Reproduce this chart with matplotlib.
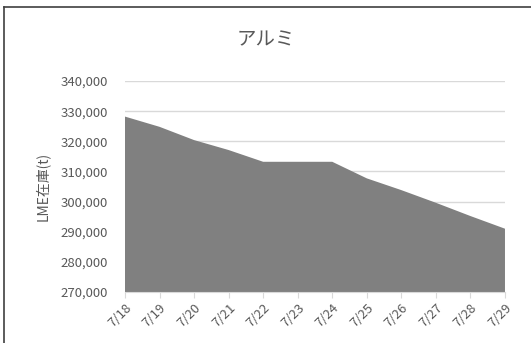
import matplotlib
matplotlib.use('Agg')
from matplotlib import pyplot as plt
from matplotlib.lines import Line2D
from matplotlib.ticker import FuncFormatter

plt.rcParams['font.family'] = ['Noto Sans CJK JP', 'DejaVu Sans']

dates = ['7/18', '7/19', '7/20', '7/21', '7/22', '7/23',
         '7/24', '7/25', '7/26', '7/27', '7/28', '7/29']
stocks = [328200, 324800, 320400, 317100, 313200, 313200,
          313200, 307700, 303800, 299600, 295200, 291000]
y_ticks = [270000, 280000, 290000, 300000, 310000, 320000, 330000, 340000]

text_color = '#595959'
grid_color = '#d9d9d9'

fig = plt.figure(dpi=100, figsize=(5.31, 3.43))
ax = fig.add_axes([0.2354, 0.1487, 0.7156, 0.6151])

x = list(range(len(dates)))
ax.fill_between(x, stocks, 270000, facecolor='#808080', edgecolor='none', zorder=2)

ax.set_xlim(0, len(dates) - 1)
ax.set_ylim(270000, 340000)
ax.set_yticks(y_ticks)
ax.yaxis.set_major_formatter(FuncFormatter(lambda v, p: f'{int(v):,}'))
ax.set_xticks(x)
ax.set_xticklabels(dates, rotation=45, ha='right', rotation_mode='anchor')

ax.grid(axis='y', color=grid_color, linewidth=1, zorder=0)
for side in ['top', 'right', 'left']:
    ax.spines[side].set_visible(False)
ax.spines['bottom'].set_color(grid_color)
ax.tick_params(axis='y', length=0, pad=12, labelsize=9.5, labelcolor=text_color)
ax.tick_params(axis='x', length=4, color=grid_color, pad=3, labelsize=9.5,
               labelcolor=text_color)

ax.set_ylabel('LME在庫(t)', fontsize=10, color=text_color, labelpad=8)
fig.text(0.5, 0.883, 'アルミ', ha='center', va='center', fontsize=14,
         color=text_color)

# chart border (top and left edges visible)
fig.add_artist(Line2D([4 / 531, 1], [1 - 7 / 343, 1 - 7 / 343],
                      transform=fig.transFigure, color='#404040', linewidth=1.2))
fig.add_artist(Line2D([4 / 531, 4 / 531], [0, 1 - 7 / 343],
                      transform=fig.transFigure, color='#404040', linewidth=1.2))

plt.savefig('out.png', dpi=100)
